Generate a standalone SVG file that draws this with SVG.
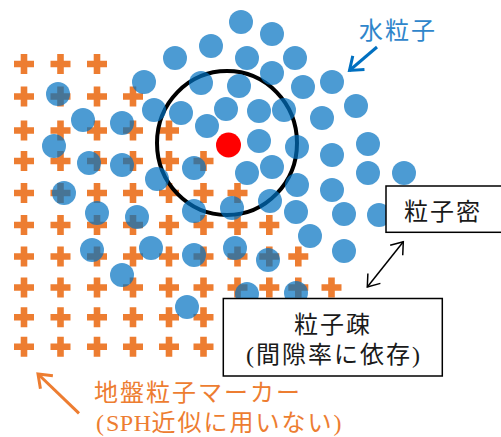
<svg xmlns="http://www.w3.org/2000/svg" xmlns:xlink="http://www.w3.org/1999/xlink" width="501" height="437" viewBox="0 0 501 437">
<style>
.plus{fill:#ED7D31}
.wp{fill:#0070C0;fill-opacity:0.7}
.box{fill:#fff;stroke:#000;stroke-width:1.5}
.t{font-family:"Liberation Serif","Noto Sans CJK JP",serif;font-size:24px;letter-spacing:2px}
.lat{letter-spacing:0.5px}
.tb{fill:#1a1a1a}
.tw{fill:#2F86CB}
.tg{fill:#ED7D31}
</style>
<defs>
<path id="plus" class="plus" d="M-3.3 -10H3.3V-3.3H10V3.3H3.3V10H-3.3V3.3H-10V-3.3H-3.3Z"/>
<marker id="hb" markerUnits="userSpaceOnUse" viewBox="-16 -12 20 24" markerWidth="20" markerHeight="24" refX="0" refY="0" orient="auto" overflow="visible">
<path d="M-12 -9L0 0L-12 9" fill="none" stroke="#0070C0" stroke-width="3"/>
</marker>
<marker id="ho" markerUnits="userSpaceOnUse" viewBox="-16 -12 20 24" markerWidth="20" markerHeight="24" refX="0" refY="0" orient="auto" overflow="visible">
<path d="M-12 -9L0 0L-12 9" fill="none" stroke="#ED7D31" stroke-width="3"/>
</marker>
<marker id="hk" markerUnits="userSpaceOnUse" viewBox="-16 -12 20 24" markerWidth="20" markerHeight="24" refX="0" refY="0" orient="auto-start-reverse" overflow="visible">
<path d="M-11 -8L0 0L-11 8" fill="none" stroke="#000" stroke-width="1.5"/>
</marker>
</defs>

<g id="ground-markers">
<use href="#plus" x="24" y="64"/><use href="#plus" x="60.5" y="64"/><use href="#plus" x="97" y="64"/>
<use href="#plus" x="24" y="96.5"/><use href="#plus" x="60.5" y="96.5"/><use href="#plus" x="97" y="96.5"/><use href="#plus" x="133" y="96.5"/>
<use href="#plus" x="24" y="130.5"/><use href="#plus" x="60.5" y="130.5"/><use href="#plus" x="97" y="130.5"/><use href="#plus" x="133" y="130.5"/><use href="#plus" x="169" y="130.5"/>
<use href="#plus" x="24" y="161"/><use href="#plus" x="60.5" y="161"/><use href="#plus" x="97" y="161"/><use href="#plus" x="133" y="161"/><use href="#plus" x="169" y="161"/><use href="#plus" x="203.5" y="161"/>
<use href="#plus" x="24" y="193"/><use href="#plus" x="60.5" y="193"/><use href="#plus" x="97" y="193"/><use href="#plus" x="133" y="193"/><use href="#plus" x="169" y="193"/><use href="#plus" x="203.5" y="193"/><use href="#plus" x="237.5" y="193"/>
<use href="#plus" x="24" y="225"/><use href="#plus" x="60.5" y="225"/><use href="#plus" x="97" y="225"/><use href="#plus" x="133" y="225"/><use href="#plus" x="169" y="225"/><use href="#plus" x="203.5" y="225"/><use href="#plus" x="237.5" y="225"/><use href="#plus" x="269.3" y="225"/>
<use href="#plus" x="24" y="256.5"/><use href="#plus" x="60.5" y="256.5"/><use href="#plus" x="97" y="256.5"/><use href="#plus" x="133" y="256.5"/><use href="#plus" x="169" y="256.5"/><use href="#plus" x="203.5" y="256.5"/><use href="#plus" x="237.5" y="256.5"/><use href="#plus" x="269.3" y="256.5"/><use href="#plus" x="298.3" y="256.5"/>
<use href="#plus" x="24" y="287.5"/><use href="#plus" x="60.5" y="287.5"/><use href="#plus" x="97" y="287.5"/><use href="#plus" x="133" y="287.5"/><use href="#plus" x="169" y="287.5"/><use href="#plus" x="203.5" y="287.5"/><use href="#plus" x="237.5" y="287.5"/><use href="#plus" x="269.3" y="287.5"/><use href="#plus" x="298.3" y="287.5"/><use href="#plus" x="331.5" y="287.5"/>
<use href="#plus" x="24" y="317.3"/><use href="#plus" x="60.5" y="317.3"/><use href="#plus" x="97" y="317.3"/><use href="#plus" x="133" y="317.3"/><use href="#plus" x="169" y="317.3"/><use href="#plus" x="203.5" y="317.3"/>
<use href="#plus" x="24" y="346.7"/><use href="#plus" x="60.5" y="346.7"/><use href="#plus" x="97" y="346.7"/><use href="#plus" x="133" y="346.7"/><use href="#plus" x="169" y="346.7"/><use href="#plus" x="203.5" y="346.7"/>
</g>

<g id="influence-circle">
<ellipse cx="227" cy="143" rx="70" ry="72" fill="none" stroke="#000" stroke-width="4"/>
</g>

<g id="water-particles">
<circle class="wp" cx="241" cy="22" r="12"/>
<circle class="wp" cx="272" cy="34" r="12"/>
<circle class="wp" cx="211" cy="46" r="12"/>
<circle class="wp" cx="175" cy="58" r="12"/>
<circle class="wp" cx="247" cy="58" r="12"/>
<circle class="wp" cx="295" cy="58" r="12"/>
<circle class="wp" cx="272" cy="73" r="12"/>
<circle class="wp" cx="144" cy="82" r="12"/>
<circle class="wp" cx="201" cy="83" r="12"/>
<circle class="wp" cx="239" cy="86" r="12"/>
<circle class="wp" cx="303" cy="87" r="12"/>
<circle class="wp" cx="332" cy="82" r="12"/>
<circle class="wp" cx="58" cy="94" r="12"/>
<circle class="wp" cx="154" cy="110" r="12"/>
<circle class="wp" cx="181" cy="113" r="12"/>
<circle class="wp" cx="226" cy="109" r="12"/>
<circle class="wp" cx="259" cy="111" r="12"/>
<circle class="wp" cx="284" cy="110" r="12"/>
<circle class="wp" cx="356" cy="106" r="12"/>
<circle class="wp" cx="322" cy="118" r="12"/>
<circle class="wp" cx="83" cy="120" r="12"/>
<circle class="wp" cx="122" cy="123" r="12"/>
<circle class="wp" cx="207" cy="126" r="12"/>
<circle class="wp" cx="54" cy="146" r="12"/>
<circle class="wp" cx="259" cy="141" r="12"/>
<circle class="wp" cx="297" cy="147" r="12"/>
<circle class="wp" cx="332" cy="155" r="12"/>
<circle class="wp" cx="368" cy="144" r="12"/>
<circle class="wp" cx="89" cy="163" r="12"/>
<circle class="wp" cx="122" cy="165" r="12"/>
<circle class="wp" cx="194" cy="168" r="12"/>
<circle class="wp" cx="247" cy="173" r="12"/>
<circle class="wp" cx="272" cy="167" r="12"/>
<circle class="wp" cx="368" cy="173" r="12"/>
<circle class="wp" cx="404" cy="173" r="12"/>
<circle class="wp" cx="157" cy="179" r="12"/>
<circle class="wp" cx="297" cy="185" r="12"/>
<circle class="wp" cx="332" cy="190" r="12"/>
<circle class="wp" cx="64" cy="193" r="12"/>
<circle class="wp" cx="97" cy="213" r="12"/>
<circle class="wp" cx="137" cy="217" r="12"/>
<circle class="wp" cx="194" cy="211" r="12"/>
<circle class="wp" cx="232" cy="208" r="12"/>
<circle class="wp" cx="270" cy="201" r="12"/>
<circle class="wp" cx="296" cy="212" r="12"/>
<circle class="wp" cx="344" cy="214" r="12"/>
<circle class="wp" cx="379" cy="215" r="12"/>
<circle class="wp" cx="310" cy="236" r="12"/>
<circle class="wp" cx="92" cy="250" r="12"/>
<circle class="wp" cx="151" cy="248" r="12"/>
<circle class="wp" cx="194" cy="255" r="12"/>
<circle class="wp" cx="235" cy="248" r="12"/>
<circle class="wp" cx="268" cy="260" r="12"/>
<circle class="wp" cx="344" cy="251" r="12"/>
<circle class="wp" cx="122" cy="275" r="12"/>
<circle class="wp" cx="247" cy="294" r="12"/>
<circle class="wp" cx="296" cy="293" r="12"/>
<circle class="wp" cx="187" cy="307" r="12"/>
</g>

<g id="center-particle">
<circle cx="228.5" cy="145" r="12.5" fill="#FF0000"/>
</g>

<g id="label-water">
<text class="t tw" x="359" y="38.6">水粒子</text>
</g>

<g id="box-dense">
<rect class="box" x="386" y="186" width="118" height="46.3"/>
<text class="t tb" x="404" y="220">粒子密</text>
</g>

<g id="box-sparse">
<rect class="box" x="223.3" y="298.5" width="219" height="77.5"/>
<text class="t tb" x="294" y="333">粒子疎</text>
<text class="t tb" x="246" y="363">(間隙率に依存)</text>
</g>

<g id="label-ground">
<text class="t tg" x="94" y="400.8">地盤粒子マーカー</text>
<text class="t tg" x="96" y="431">(<tspan class="lat">SPH</tspan>近似に用いない)</text>
</g>

<g id="connectors">
<line x1="377" y1="47" x2="349.5" y2="70.5" stroke="#0070C0" stroke-width="3" marker-end="url(#hb)"/>
<line x1="403.3" y1="241.7" x2="367.3" y2="287" stroke="#000" stroke-width="1.5" marker-start="url(#hk)" marker-end="url(#hk)"/>
<line x1="79" y1="413.3" x2="38" y2="374" stroke="#ED7D31" stroke-width="3" marker-end="url(#ho)"/>
</g>
</svg>
